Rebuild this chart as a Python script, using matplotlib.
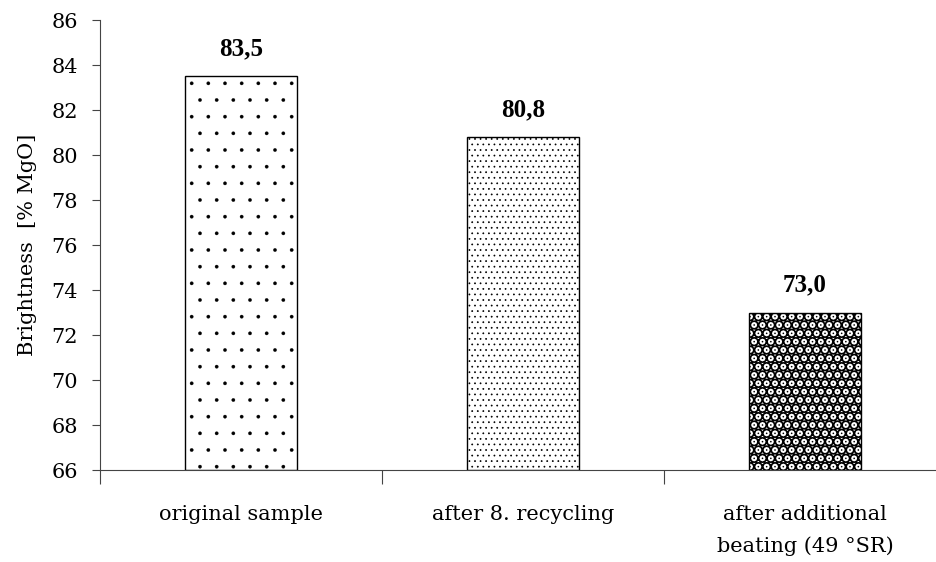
import matplotlib.pyplot as plt
import numpy as np

categories = ["original sample", "after 8. recycling", "after additional\nbeating (49 °SR)"]
values = [83.5, 80.8, 73.0]
value_labels = ["83,5", "80,8", "73,0"]
hatches = [".", "...", ".."]
hatch_widths = [0.2, 0.5, 5.5]

plt.rcParams['font.family'] = ['DejaVu Serif']

fig = plt.figure(figsize=(9.37, 5.62), dpi=100)
ax = fig.add_axes([100 / 937, 92 / 562, 846 / 937, 450 / 562])

x = np.arange(len(categories)) + 0.5
for xi, v, h, hw in zip(x, values, hatches, hatch_widths):
    with plt.rc_context({'hatch.linewidth': hw}):
        bars = ax.bar(xi, v - 66, bottom=66, width=0.4, color='white',
                      edgecolor='black', linewidth=1.0, hatch=h)
    for b in bars:
        if hasattr(b, 'set_hatch_linewidth'):
            b.set_hatch_linewidth(hw)

for xi, v, lab in zip(x, values, value_labels):
    ax.text(xi, v + 0.7, lab, ha='center', va='bottom', fontsize=18,
            fontweight='bold', family='Liberation Serif')

ax.set_xlim(0, 3)
ax.set_ylim(66, 86)
ax.set_yticks(np.arange(66, 87, 2))
ax.set_xticks([0, 1, 2])
ax.set_xticklabels([])
ax.set_xticks(x, minor=True)
ax.set_xticklabels(categories, minor=True, fontsize=15, linespacing=1.8)
ax.tick_params(axis='x', which='major', direction='out', length=10, width=0.8, color='#444444')
ax.tick_params(axis='x', which='minor', length=0, pad=25)
ax.tick_params(axis='y', direction='out', length=6, width=0.8, color='#444444', labelsize=15, pad=10)

ax.spines['top'].set_visible(False)
ax.spines['right'].set_visible(False)
ax.spines['left'].set_color('#444444')
ax.spines['bottom'].set_color('#444444')

ax.set_ylabel("Brightness  [% MgO]", fontsize=15, labelpad=10)

fig.savefig("out.png", dpi=100)
